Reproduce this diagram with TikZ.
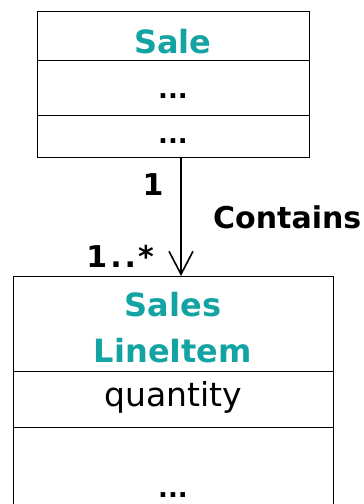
\documentclass[tikz,border=0pt]{standalone}
\usepackage{fontspec}
\setmainfont{DejaVu Sans}
\usetikzlibrary{arrows.meta,positioning}
\definecolor{umlteal}{RGB}{20,163,163}

\begin{document}
\begin{tikzpicture}[x=1pt,y=-1pt,
    compart/.style={draw, line width=1pt, inner sep=0pt, outer sep=0pt},
    title/.style={text=umlteal, font=\fontsize{32}{38}\selectfont\bfseries, inner sep=0pt, anchor=base},
    attr/.style={font=\fontsize{33}{38}\selectfont, inner sep=0pt, anchor=base},
    dots/.style={font=\fontsize{26}{30}\selectfont\bfseries, inner sep=0pt, anchor=base},
    mult/.style={font=\fontsize{30}{36}\selectfont\bfseries, inner sep=0pt},
    assoc/.style={line width=1.6pt, -{Straight Barb[length=23pt,width=24pt]}}]
    \clip (0,0) rectangle (364,504);
    % class Sale
    \node[compart, minimum width=272pt, minimum height=49pt] (sale) at (173,35.5) {};
    \node[compart, minimum width=272pt, minimum height=55pt, below=0pt of sale] (saleAttr) {};
    \node[compart, minimum width=272pt, minimum height=42pt, below=0pt of saleAttr] (saleOps) {};
    \node[title] (saleName) at (173,53) {Sale};
    \node[dots] (saleDots) at (173,98) {...};
    \node[dots] (opsDots) at (173,143) {...};
    % class SalesLineItem
    \node[compart, minimum width=320pt, minimum height=95pt] (item) at (173,323.5) {};
    \node[compart, minimum width=320pt, minimum height=56pt, below=0pt of item] (itemAttr) {};
    \node[compart, minimum width=320pt, minimum height=113pt, below=0pt of itemAttr] (itemOps) {};
    \node[title] (itemName1) at (173,316) {Sales};
    \node[title] (itemName2) at (173,362) {LineItem};
    \node[attr] (qty) at (173,406) {quantity};
    \node[dots] (itemDots) at (173,497) {...};
    % association
    \draw[assoc] ([xshift=8pt]saleOps.south) -- ([xshift=8pt]item.north);
    \node[mult, anchor=base] (one) at (153,195) {1};
    \node[mult, anchor=base east] (many) at (154,267) {1\kern3pt.\kern3pt.\kern2pt*};
    \node[mult, anchor=base west] (role) at (213,228) {Contains};
\end{tikzpicture}
\end{document}
